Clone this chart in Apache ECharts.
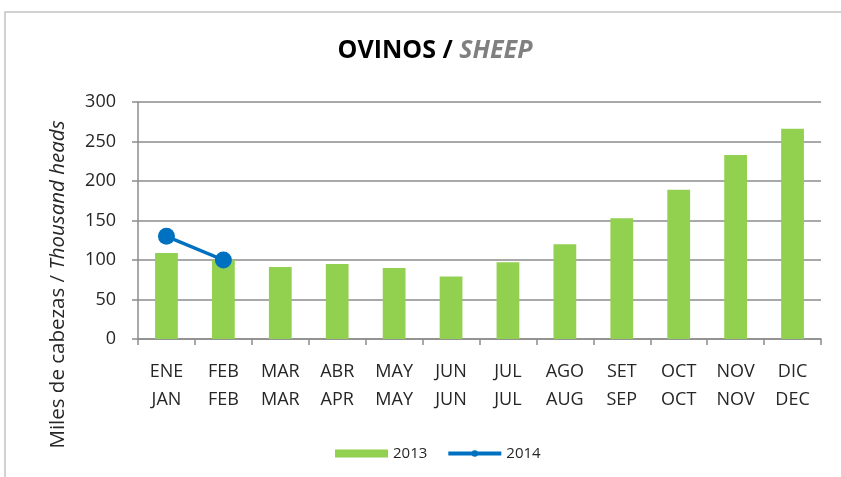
<!DOCTYPE html>
<html>
<head>
<meta charset="utf-8">
<script src="https://cdn.jsdelivr.net/npm/echarts@6/dist/echarts.min.js"></script>
<style>
  html, body { margin: 0; padding: 0; background: #fff; }
  #chart { width: 841px; height: 477px; }
</style>
</head>
<body>
<div id="chart"></div>
<script>
// meses (es / en)
var mesesEs = ['ENE', 'FEB', 'MAR', 'ABR', 'MAY', 'JUN', 'JUL', 'AGO', 'SET', 'OCT', 'NOV', 'DIC'];
var mesesEn = ['JAN', 'FEB', 'MAR', 'APR', 'MAY', 'JUN', 'JUL', 'AUG', 'SEP', 'OCT', 'NOV', 'DEC'];
// miles de cabezas
var datos2013 = [109, 100, 91, 95, 90, 79, 97, 120, 153, 189, 233, 266];
var datos2014 = [130, 100];
var ticksY = [0, 50, 100, 150, 200, 250, 300];

var fuente = 'Open Sans';
var categorias = mesesEs.map(function(m, i) { return m + '\n' + mesesEn[i]; });

var chart = echarts.init(document.getElementById('chart'));
chart.setOption({
    animation: false,
    textStyle: { fontFamily: fuente },
    graphic: [{
        type: 'rect',
        shape: { x: 5, y: 12, width: 850, height: 480 },
        style: { fill: 'none', stroke: '#c4c4c4', lineWidth: 1.5 }
    }],
    title: {
        text: '{a|OVINOS / }{b|SHEEP}',
        left: 430,
        top: 33,
        textAlign: 'center',
        textStyle: {
            rich: {
                a: { fontFamily: fuente, fontSize: 25, fontWeight: 'bold', color: '#000' },
                b: { fontFamily: fuente, fontSize: 25, fontWeight: 'bold', fontStyle: 'italic', color: '#808080' }
            }
        }
    },
    legend: {
        top: 441,
        left: 330,
        itemGap: 19,
        textStyle: { fontSize: 15, color: '#262626', fontFamily: fuente },
        data: [
            { name: '2013', icon: 'rect', itemStyle: { color: '#92D050' } },
            { name: '2014', lineStyle: { width: 4 } }
        ],
        itemWidth: 53,
        itemHeight: 8
    },
    grid: { left: 138, right: 20, top: 102, bottom: 138, containLabel: false },
    xAxis: {
        type: 'category',
        data: categorias,
        axisLine: { lineStyle: { color: '#8c8c8c', width: 1.5 } },
        axisTick: { show: true, length: 6, lineStyle: { color: '#8c8c8c', width: 1.5 } },
        axisLabel: { color: '#262626', fontSize: 18, lineHeight: 28, margin: 19, interval: 0 }
    },
    yAxis: {
        type: 'value',
        min: 0,
        max: ticksY[ticksY.length - 1],
        interval: 50,
        name: '{a|Miles de cabezas / }{b|Thousand heads}',
        nameLocation: 'middle',
        nameGap: 69,
        nameRotate: 90,
        nameTextStyle: {
            padding: [0, 128, 0, 0],
            rich: {
                a: { fontFamily: fuente, fontSize: 20.5, color: '#262626' },
                b: { fontFamily: fuente, fontSize: 20.5, fontStyle: 'italic', color: '#262626' }
            }
        },
        axisLine: { show: true, lineStyle: { color: '#8c8c8c', width: 1.5 } },
        axisTick: { show: true, length: 6, lineStyle: { color: '#8c8c8c', width: 1.5 } },
        axisLabel: { color: '#262626', fontSize: 18, margin: 22 },
        splitLine: { lineStyle: { color: '#8c8c8c', width: 1.5 } }
    },
    series: [{
        name: '2013',
        type: 'bar',
        data: datos2013,
        barWidth: '40%',
        itemStyle: { color: '#92D050' }
    }, {
        name: '2014',
        type: 'line',
        data: datos2014,
        symbol: 'circle',
        symbolSize: 17,
        lineStyle: { color: '#0070C0', width: 3.5 },
        itemStyle: { color: '#0070C0' },
        z: 5
    }]
});
</script>
</body>
</html>
